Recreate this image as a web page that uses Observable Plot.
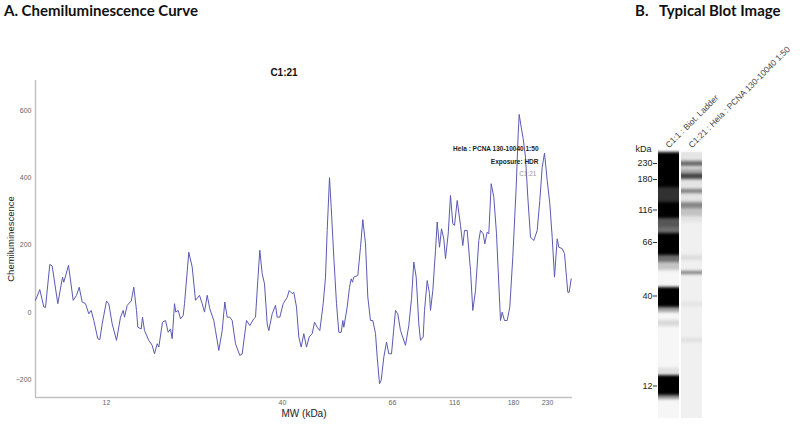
<!DOCTYPE html>
<html><head><meta charset="utf-8">
<script src="https://cdn.jsdelivr.net/npm/d3@7"></script>
<script src="https://cdn.jsdelivr.net/npm/@observablehq/plot@0.6"></script>
<style>
body{margin:0;background:#fff;}
#wrap{position:relative;width:800px;height:425px;overflow:hidden;background:#fff;}
.ptitle{position:absolute;font-family:Lato,"Open Sans",sans-serif;font-weight:700;font-size:15px;color:#111;white-space:pre;line-height:18px;}
#curve{position:absolute;left:0;top:60px;}
#blot{position:absolute;left:600px;top:0;}
</style></head><body>
<div id="wrap">
<div class="ptitle" style="left:4px;top:1px">A. Chemiluminescence Curve</div>
<div class="ptitle" style="left:635px;top:1px">B.   Typical Blot Image</div>
<div id="curve"></div><div id="blot"></div>
</div>
<script>
// ---- Panel A data: chemiluminescence curve (migration position a.u., signal) ----
const migration = [0,4.3,8.3,10,14.3,16.7,22.3,27,28.3,33,37.7,41,43.7,46.7,50,53.3,55.7,58.3,62.3,64.3,66.7,71,73.3,76.7,81,85,87.7,89,91.7,95.7,98.3,101,102.3,105.7,107,109,113.3,116.7,119,121.7,123.3,127,130,132.7,135,136.7,139,140.3,142.7,145,147.7,149,153.3,156.7,160,164,166.7,169,171.7,174.3,178.3,180,183.3,186.7,189.3,191.7,194.3,196.7,200,204.3,206.7,211,214.3,218.3,220,222.3,224.3,226.7,229,231.7,233.3,236.7,240,241.7,244.3,247.7,251.7,253.7,256.7,258.3,261,263.3,265.7,268.3,271,273.7,276.7,279,281.7,284.3,287.7,290,291.7,294,295.7,298.3,301,303.3,305.7,307.3,308.3,311.7,314,315.7,317,318.3,322.3,325,327.3,330,332.3,335,337.3,340,341.7,344,345.7,348.3,351,353.3,356,360,362.3,365,370,373.3,376,378.3,380.7,383.3,385,387.7,389,391.7,394,395,397.3,400,401.7,404,406,408.3,410,412.7,415,417.3,419,421.7,425,427.3,429,431.7,435,437.3,440,443.3,445,447.7,449.3,451.7,453.3,455.7,458.3,461,465,466.7,469,471.7,474.3,477.3,480.7,482.7,483.7,485.7,487.7,490,492.3,495,498.3,501.7,504.3,506.7,509,511.7,514.3,516.7,519,521.7,523.3,526.7,529,531,532.3,533.7,535.7];
const signal = [36,68,16,15,143,138,26,105,90,140,36,51,75,31,26,-4,6,-24,-78,-81,-34,34,26,-34,-83,-14,6,-14,21,34,75,6,-44,-49,-14,-54,-83,-98,-123,-93,-103,-29,-24,-59,-49,-78,26,1,6,-19,-9,26,179,135,36,51,26,1,51,11,-24,-54,-113,-54,31,-14,-14,-24,-93,-128,-123,-24,-39,-19,-14,95,185,115,85,-34,-54,-4,21,-14,-14,26,45,65,56,60,16,-73,-103,-63,-103,-73,-63,-29,-44,-54,26,105,244,401,313,165,26,-59,-59,-24,-44,16,75,100,90,105,110,194,276,204,46,-24,-24,-63,-133,-212,-202,-133,-88,-123,-123,6,-4,-54,-98,-39,41,150,105,-34,-83,-73,6,95,56,6,65,185,269,194,249,219,160,234,348,264,259,333,259,199,244,244,125,6,65,214,244,234,204,239,234,383,343,234,-24,1,-24,-24,16,165,373,532,589,551,517,462,343,224,214,244,333,432,474,393,324,224,105,219,194,190,175,105,60,60,100];
const yTicks = [-200, 0, 200, 400, 600];
const mwTickPos = [71, 247, 357, 419, 478, 512];
const mwTickLabels = ["12", "40", "66", "116", "180", "230"];
const chartTitle = "C1:21";
const legendLines = ["Hela : PCNA 130-10040 1:50", "Exposure: HDR", "C1:21"];

// ---- Panel B data: blot lanes (migration position a.u.) ----
const laneIds = ["ladder", "sample"];
const laneLabels = ["C1:1 : Biot. Ladder", "C1:21 : Hela : PCNA 130-10040 1:50"];
const kdaTickPos = [11, 27, 57.5, 90, 143.5, 233.5];
const kdaTickLabels = ["230", "180", "116", "66", "40", "12"];
const ladderStart = [0, 35, 50, 66, 75, 81, 103, 110, 135, 155, 168, 216, 223, 243];
const ladderEnd   = [35, 50, 66, 75, 81, 103, 110, 118, 155, 160, 174, 221, 243, 247];
const ladderDark  = [1, 0.8, 1, 0.65, 0.55, 1, 0.55, 0.2, 1, 0.35, 0.12, 0.1, 1, 0.4];
const sampleStart = [0, 9, 17, 21, 37, 50, 56, 103, 119, 150, 186];
const sampleEnd   = [70, 14, 20, 27, 41, 56, 64, 108, 122, 154, 190];
const sampleDark  = [0.05, 0.55, 0.3, 0.7, 0.45, 0.42, 0.15, 0.08, 0.5, 0.05, 0.07];
const laneBgFill = ["#f6f6f6", "#f0f0f0"];

const curve = migration.map((m, i) => ({pos: m, value: signal[i]}));
const tickLab = new Map(mwTickPos.map((p, i) => [p, mwTickLabels[i]]));
const kdaLab = new Map(kdaTickPos.map((p, i) => [p, kdaTickLabels[i]]));
const font = "'Liberation Sans', Arial, sans-serif";

const yMin = -253, yMax = 690;
const curvePlot = Plot.plot({
  width: 590, height: 365,
  marginLeft: 35, marginRight: 18, marginTop: 20, marginBottom: 28,
  style: {fontFamily: font, background: "transparent", overflow: "visible"},
  x: {domain: [0, 537]},
  y: {domain: [yMin, yMax]},
  marks: [
    Plot.ruleX([0], {stroke: "#c2c2c2", strokeWidth: 1.5}),
    Plot.ruleY([yMin], {stroke: "#c2c2c2", strokeWidth: 1.5}),
    Plot.axisY({ticks: yTicks, tickSize: 0, tickPadding: 4, fontSize: 7, fill: "#666", label: null}),
    Plot.axisX({ticks: mwTickPos, tickFormat: d => tickLab.get(d), tickSize: 0, tickPadding: 3, fontSize: 7, fill: "#666", label: null}),
    Plot.line(curve, {x: "pos", y: "value", stroke: "#5a5ab4", strokeWidth: 1}),
    Plot.text([chartTitle], {text: d => d, frameAnchor: "top", textAnchor: "middle", lineAnchor: "middle", dx: -20, dy: -8, fontWeight: "bold", fontSize: 10, fill: "#111"}),
    Plot.text([legendLines[0]], {text: d => d, frameAnchor: "top-right", textAnchor: "end", lineAnchor: "middle", dx: -34, dy: 68, fontWeight: "bold", fontSize: 6.5, fill: "#222"}),
    Plot.text([legendLines[1]], {text: d => d, frameAnchor: "top-right", textAnchor: "end", lineAnchor: "middle", dx: -34, dy: 81, fontWeight: "bold", fontSize: 6.5, fill: "#222"}),
    Plot.text([legendLines[2]], {text: d => d, frameAnchor: "top-right", textAnchor: "end", lineAnchor: "middle", dx: -36, dy: 93, fontSize: 6.5, fill: "#999"}),
    Plot.text(["Chemiluminescence"], {text: d => d, frameAnchor: "left", textAnchor: "middle", lineAnchor: "middle", rotate: -90, dx: -25, fontSize: 9.5, fill: "#222"}),
    Plot.text(["MW (kDa)"], {text: d => d, frameAnchor: "bottom", textAnchor: "middle", lineAnchor: "middle", dy: 16, fontSize: 10, fill: "#222"})
  ]
});
document.getElementById("curve").appendChild(curvePlot);

const laneBg = laneIds.map((l, i) => ({lane: l, y1: 0, y2: 266, fill: laneBgFill[i]}));
const bands = [
  ...ladderStart.map((s, i) => ({lane: "ladder", y1: s, y2: ladderEnd[i], d: ladderDark[i]})),
  ...sampleStart.map((s, i) => ({lane: "sample", y1: s, y2: sampleEnd[i], d: sampleDark[i]}))
];
const blotPlot = Plot.plot({
  width: 200, height: 425,
  marginLeft: 57, marginRight: 98, marginTop: 152, marginBottom: 7,
  style: {fontFamily: font, background: "transparent", overflow: "visible"},
  x: {domain: laneIds, paddingInner: 0.1, paddingOuter: 0, axis: null},
  y: {domain: [0, 266], reverse: true},
  marks: [
    Plot.barY(laneBg, {x: "lane", y1: "y1", y2: "y2", fill: "fill"}),
    Plot.barY(bands, {x: "lane", y1: "y1", y2: "y2", fill: "black", fillOpacity: "d"}),
    Plot.axisY({ticks: kdaTickPos, tickFormat: d => kdaLab.get(d), tickSize: 4, tickPadding: 1, fontSize: 9, fill: "#222", stroke: "#333", label: null}),
    Plot.text(["kDa"], {text: d => d, frameAnchor: "top-left", textAnchor: "end", lineAnchor: "middle", dx: -6, dy: -3, fontSize: 9, fill: "#222"}),
    Plot.text(laneIds, {x: d => d, text: (d, i) => laneLabels[i], frameAnchor: "top", textAnchor: "start", lineAnchor: "middle", rotate: -45, dx: -2, dy: -6, fontSize: 8.5, fill: "#444"})
  ]
});
// soft vertical blur on the bands, like a gel image
const ns = "http://www.w3.org/2000/svg";
const defs = document.createElementNS(ns, "defs");
const filt = document.createElementNS(ns, "filter");
filt.setAttribute("id", "vblur");
filt.setAttribute("filterUnits", "userSpaceOnUse");
filt.setAttribute("x", "0"); filt.setAttribute("y", "140");
filt.setAttribute("width", "200"); filt.setAttribute("height", "285");
const gb = document.createElementNS(ns, "feGaussianBlur");
gb.setAttribute("stdDeviation", "0 1.4");
filt.appendChild(gb); defs.appendChild(filt);
blotPlot.insertBefore(defs, blotPlot.firstChild);
const barGroups = blotPlot.querySelectorAll('g[aria-label="bar"]');
if (barGroups.length > 1) barGroups[1].setAttribute("filter", "url(#vblur)");
document.getElementById("blot").appendChild(blotPlot);
</script>
</body></html>
